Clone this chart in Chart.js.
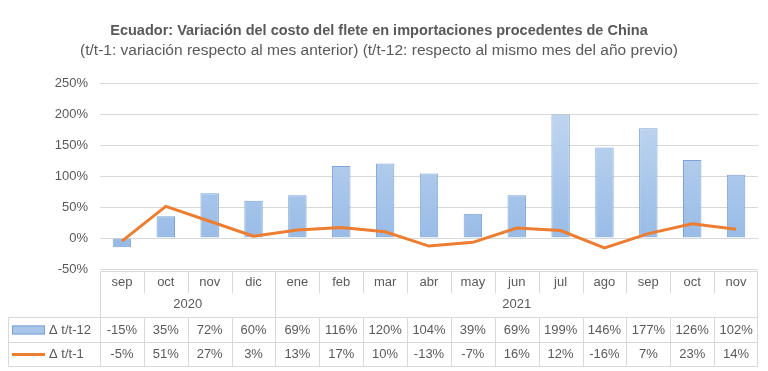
<!DOCTYPE html>
<html lang="es">
<head>
<meta charset="UTF-8" />
<title>Ecuador - Variación del costo del flete</title>
<script src="https://cdn.jsdelivr.net/npm/chart.js"></script>
<style>
    html, body { margin: 0; padding: 0; background: #fff; }
    #wrap { width: 768px; height: 371px; }
</style>
</head>
<body>
<div id="wrap"><canvas id="graficoFlete"></canvas></div>

<script>
    // === Datos ===
    const meses = ["sep", "oct", "nov", "dic", "ene", "feb", "mar", "abr", "may", "jun", "jul", "ago", "sep", "oct", "nov"];
    const anios = ["2020", "2021"];
    const mesesPorAnio = [4, 11];
    const varAnual = [-15, 35, 72, 60, 69, 116, 120, 104, 39, 69, 199, 146, 177, 126, 102];   // Δ t/t-12
    const varMensual = [-5, 51, 27, 3, 13, 17, 10, -13, -7, 16, 12, -16, 7, 23, 14];          // Δ t/t-1
    const ticksY = [-50, 0, 50, 100, 150, 200, 250];
    const nombresSeries = ["Δ t/t-12", "Δ t/t-1"];

    const gris = "#595959";
    const linea = "#d9d9d9";
    const fuente = "'Liberation Sans', Arial, sans-serif";

    // tabla de datos bajo el gráfico (como en Excel)
    const tablaDatos = {
        id: "tablaDatos",
        afterDraw(chart) {
            const { ctx, chartArea } = chart;
            const x = chart.scales.x;
            const n = meses.length;
            const ancho = x.getPixelForValue(1) - x.getPixelForValue(0);
            const izq = Math.round(x.getPixelForValue(0) - ancho / 2) + 0.5;
            const der = Math.round(x.getPixelForValue(n - 1) + ancho / 2) - 0.5;
            const borde = (i) => Math.round(x.getPixelForValue(i) - ancho / 2) + 0.5;

            const yTop = chartArea.bottom + 2.5;
            const yAnio = yTop + 46;
            const yFila1 = yAnio + 25;
            const yFila2 = yFila1 + 24;
            const leyIzq = 8.5;

            ctx.save();
            ctx.strokeStyle = linea;
            ctx.lineWidth = 1;
            ctx.beginPath();
            // horizontales
            ctx.moveTo(izq, yTop); ctx.lineTo(der, yTop);
            [yAnio, yFila1, yFila2].forEach(y => { ctx.moveTo(leyIzq, y); ctx.lineTo(der, y); });
            // bordes verticales
            ctx.moveTo(izq, yTop); ctx.lineTo(izq, yFila2);
            ctx.moveTo(der, yTop); ctx.lineTo(der, yFila2);
            ctx.moveTo(leyIzq, yAnio); ctx.lineTo(leyIzq, yFila2);
            // separadores de meses
            let acum = 0;
            const cortes = mesesPorAnio.map(m => (acum += m));
            for (let i = 1; i < n; i++) {
                const bx = borde(i);
                const esCorte = cortes.includes(i);
                ctx.moveTo(bx, yTop);
                ctx.lineTo(bx, esCorte ? yAnio : yTop + 22);
                ctx.moveTo(bx, yAnio);
                ctx.lineTo(bx, yFila2);
            }
            ctx.stroke();

            // textos
            ctx.fillStyle = gris;
            ctx.font = "13px " + fuente;
            ctx.textAlign = "center";
            ctx.textBaseline = "middle";
            meses.forEach((m, i) => {
                const cx = x.getPixelForValue(i);
                ctx.fillText(m, cx, yTop + 11);
                ctx.fillText(varAnual[i] + "%", cx, yAnio + 12.5);
                ctx.fillText(varMensual[i] + "%", cx, yFila1 + 12);
            });
            let ini = 0;
            anios.forEach((a, k) => {
                const fin = ini + mesesPorAnio[k] - 1;
                const cx = (x.getPixelForValue(ini) + x.getPixelForValue(fin)) / 2;
                ctx.fillText(a, cx, yTop + 33);
                ini = fin + 1;
            });

            // leyenda
            ctx.textAlign = "left";
            ctx.fillStyle = "#a9c5ea";
            ctx.fillRect(12, yAnio + 8, 33, 9);
            ctx.strokeStyle = "#7ba3d6";
            ctx.strokeRect(12.5, yAnio + 8.5, 32, 8);
            ctx.fillStyle = gris;
            ctx.fillText(nombresSeries[0], 49, yAnio + 12.5);

            ctx.strokeStyle = "#ed7d31";
            ctx.lineWidth = 3;
            ctx.beginPath();
            ctx.moveTo(12, yFila1 + 12);
            ctx.lineTo(45, yFila1 + 12);
            ctx.stroke();
            ctx.fillText(nombresSeries[1], 49, yFila1 + 12);
            ctx.restore();
        }
    };

    function relleno(ctx) {
        const area = ctx.chart.chartArea;
        if (!area) return "#a9c5ea";
        const g = ctx.chart.ctx.createLinearGradient(0, area.top, 0, area.bottom);
        g.addColorStop(0, "#c9dcf2");
        g.addColorStop(1, "#8fb5e4");
        return g;
    }

    new Chart(document.getElementById("graficoFlete"), {
        type: "bar",
        data: {
            labels: meses,
            datasets: [
                {
                    type: "line",
                    label: nombresSeries[1],
                    data: varMensual,
                    borderColor: "#ed7d31",
                    borderWidth: 3,
                    pointRadius: 0,
                    tension: 0,
                    order: 0
                },
                {
                    label: nombresSeries[0],
                    data: varAnual,
                    backgroundColor: relleno,
                    borderColor: "#7ba3d6",
                    borderWidth: 1,
                    categoryPercentage: 1,
                    barPercentage: 0.42,
                    order: 1
                }
            ]
        },
        options: {
            responsive: true,
            maintainAspectRatio: false,
            animation: false,
            layout: { padding: { left: 0, right: 10, bottom: 102 } },
            plugins: {
                legend: { display: false },
                tooltip: { enabled: false },
                title: {
                    display: true,
                    text: "Ecuador: Variación del costo del flete en importaciones procedentes de China",
                    color: gris,
                    font: { family: fuente, size: 14.5, weight: "bold" },
                    padding: { top: 22, bottom: 2 }
                },
                subtitle: {
                    display: true,
                    text: "(t/t-1: variación respecto al mes anterior) (t/t-12: respecto al mismo mes del año previo)",
                    color: gris,
                    font: { family: fuente, size: 15.5 },
                    padding: { bottom: 23 }
                }
            },
            scales: {
                x: { display: false, offset: true },
                y: {
                    min: ticksY[0],
                    max: ticksY[ticksY.length - 1],
                    afterBuildTicks: s => { s.ticks = ticksY.map(v => ({ value: v })); },
                    afterFit: s => { s.width = 100; },
                    border: { display: false },
                    grid: { color: linea, drawTicks: false },
                    ticks: {
                        color: gris,
                        padding: 12,
                        font: { family: fuente, size: 13 },
                        callback: v => v + "%"
                    }
                }
            }
        },
        plugins: [tablaDatos]
    });
</script>
</body>
</html>
